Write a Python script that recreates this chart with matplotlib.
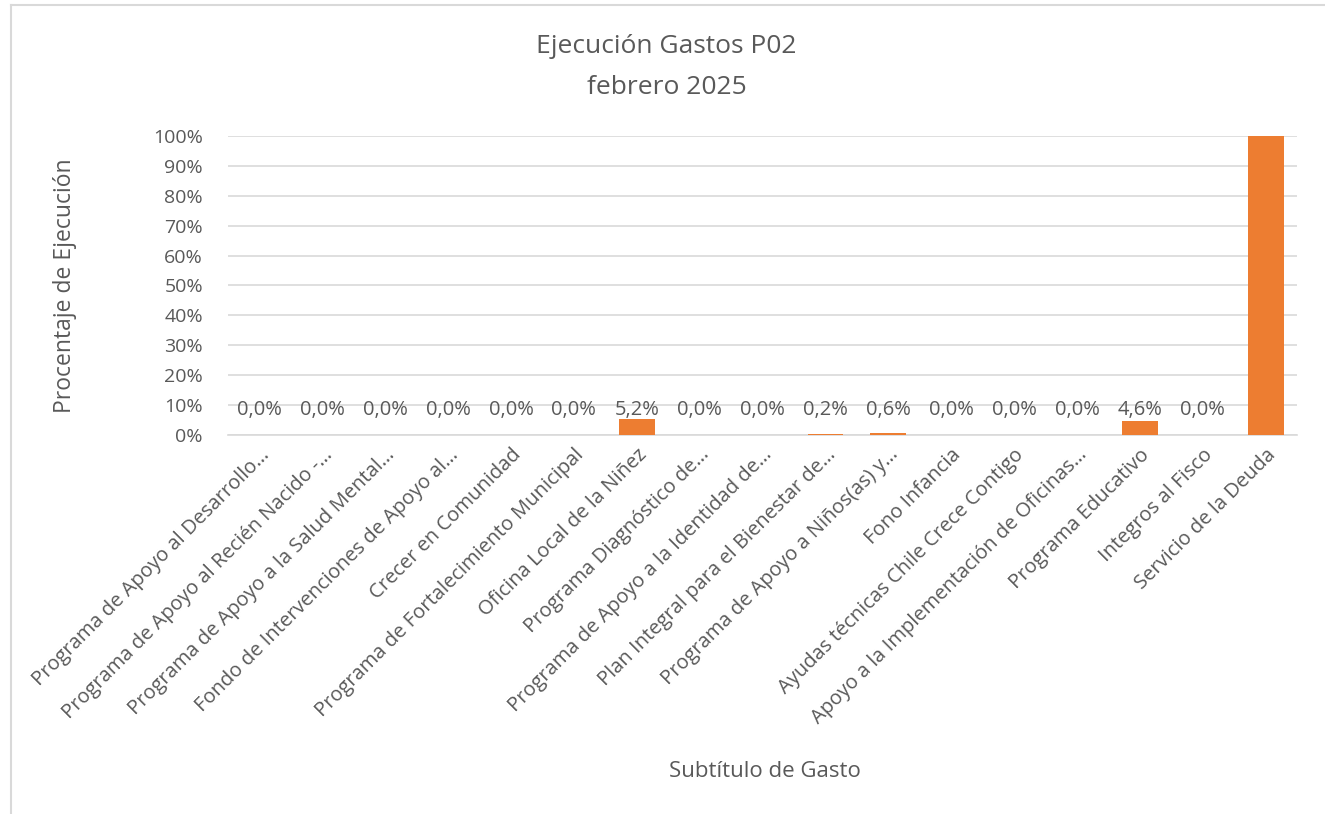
import matplotlib
matplotlib.use("Agg")
import matplotlib.pyplot as plt
from matplotlib.lines import Line2D
import numpy as np

categories = [
    "Programa de Apoyo al Desarrollo…",
    "Programa de Apoyo al Recién Nacido -…",
    "Programa de Apoyo a la Salud Mental…",
    "Fondo de Intervenciones de Apoyo al…",
    "Crecer en Comunidad",
    "Programa de Fortalecimiento Municipal",
    "Oficina Local de la Niñez",
    "Programa Diagnóstico de…",
    "Programa de Apoyo a la Identidad de…",
    "Plan Integral para el Bienestar de…",
    "Programa de Apoyo a Niños(as) y…",
    "Fono Infancia",
    "Ayudas técnicas Chile Crece Contigo",
    "Apoyo a la Implementación de Oficinas…",
    "Programa Educativo",
    "Integros al Fisco",
    "Servicio de la Deuda",
]
values = [0.0, 0.0, 0.0, 0.0, 0.0, 0.0, 5.2, 0.0, 0.0, 0.2, 0.6, 0.0, 0.0, 0.0, 4.6, 0.0, 100.0]
show_label = [True] * 16 + [False]

plt.rcParams['font.family'] = ['Open Sans', 'DejaVu Sans']
text_color = '#595959'
bar_color = '#ED7D31'

fig = plt.figure(figsize=(13.25, 8.14), dpi=100)
ax = fig.add_axes([0.172, 0.4656, 0.807, 0.3674])

x = np.arange(len(categories))
ax.bar(x, values, width=0.57, color=bar_color, zorder=3)

for xi, v, show in zip(x, values, show_label):
    if show:
        ax.annotate(f"{v:.1f}%".replace('.', ','), (xi, 0), xytext=(0, 25),
                    textcoords='offset pixels', ha='center', va='center',
                    fontsize=14.5, color=text_color)

ax.set_xlim(-0.5, len(categories) - 0.5)
ax.set_ylim(0, 100)
ax.set_yticks(np.arange(0, 101, 10))
ax.set_yticklabels([f"{t}%" for t in range(0, 101, 10)])
ax.set_xticks(x)
ax.set_xticklabels(categories, rotation=45, ha='right', rotation_mode='anchor')

ax.grid(axis='y', color='#d9d9d9', linewidth=1.2, zorder=0)
for side in ['top', 'right', 'left']:
    ax.spines[side].set_visible(False)
ax.spines['bottom'].set_color('#d9d9d9')
ax.spines['bottom'].set_linewidth(1.2)
ax.tick_params(axis='y', length=0, labelsize=14, colors=text_color, pad=18)
ax.tick_params(axis='x', length=0, labelsize=14.5, colors=text_color, pad=7)

ax.set_ylabel('Procentaje de Ejecución', fontsize=16.5, color=text_color, labelpad=55)
fig.text(0.577, 0.052, 'Subtítulo de Gasto', ha='center', va='center',
         fontsize=16, color=text_color)
fig.text(0.503, 0.9177, 'Ejecución Gastos P02\nfebrero 2025', ha='center', va='center',
         fontsize=19, color=text_color, linespacing=1.85)

# chart area border (top and left)
fig.add_artist(Line2D([0.008, 1.0], [0.994, 0.994], color='#d9d9d9', linewidth=1.5))
fig.add_artist(Line2D([0.008, 0.008], [0.0, 0.994], color='#d9d9d9', linewidth=1.5))

fig.savefig('out.png', dpi=100)
